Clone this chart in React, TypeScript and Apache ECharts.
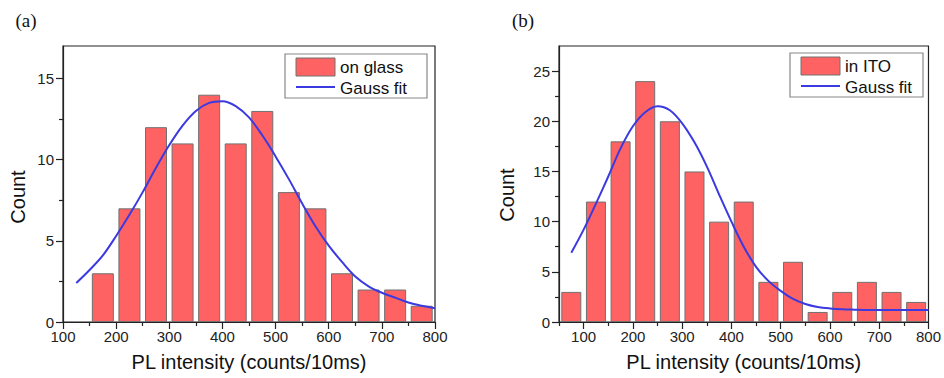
import React, { useEffect, useRef } from 'react';
import * as echarts from 'echarts';

// ---- Panel (a): on glass ----
const binsA = [175, 225, 275, 325, 375, 425, 475, 525, 575, 625, 675, 725, 775];
const countsA = [3, 7, 12, 11, 14, 11, 13, 8, 7, 3, 2, 2, 1];
const fitAx = [125, 150, 175, 200, 225, 250, 275, 300, 325, 350, 375, 400, 425, 450, 475, 500, 525, 550, 575, 600, 625, 650, 675, 700, 725, 750, 775, 800];
const fitAy = [2.4, 3.2, 4.1, 5.3, 6.6, 8.0, 9.5, 10.9, 12.1, 13.0, 13.5, 13.6, 13.3, 12.6, 11.5, 10.2, 8.8, 7.3, 5.9, 4.7, 3.7, 2.8, 2.2, 1.8, 1.5, 1.2, 1.0, 0.85];
const xTicksA = [100, 200, 300, 400, 500, 600, 700, 800];
const xMinorA = [150, 250, 350, 450, 550, 650, 750];
const yTicksA = [0, 5, 10, 15];
const yMinorA = [2.5, 7.5, 12.5];

// ---- Panel (b): in ITO ----
const binsB = [75, 125, 175, 225, 275, 325, 375, 425, 475, 525, 575, 625, 675, 725, 775];
const countsB = [3, 12, 18, 24, 20, 15, 10, 12, 4, 6, 1, 3, 4, 3, 2];
const fitBx = [75, 100, 125, 150, 175, 200, 225, 250, 275, 300, 325, 350, 375, 400, 425, 450, 475, 500, 525, 550, 575, 600, 625, 650, 675, 700, 725, 750, 775, 800];
const fitBy = [6.9, 9.2, 11.8, 14.5, 17.3, 19.5, 20.9, 21.5, 21.1, 19.8, 17.9, 15.5, 12.7, 10.0, 7.5, 5.5, 4.1, 3.1, 2.3, 1.8, 1.5, 1.35, 1.27, 1.23, 1.2, 1.2, 1.2, 1.2, 1.2, 1.2];
const xTicksB = [100, 200, 300, 400, 500, 600, 700, 800];
const xMinorB = [50, 150, 250, 350, 450, 550, 650, 750];
const yTicksB = [0, 5, 10, 15, 20, 25];
const yMinorB = [2.5, 7.5, 12.5, 17.5, 22.5];

const SANS = '"Liberation Sans", Arial, sans-serif';
const SERIF = '"Liberation Serif", "Times New Roman", serif';
const AXIS = '#222';
const BAR = '#ff6262';
const BAR_BORDER = '#707070';
const FIT = '#3a3ae0';

function mainX(gridIndex: number, min: number, max: number, ticks: number[]) {
  return {
    type: 'value', gridIndex, min, max, position: 'bottom',
    axisLine: { show: true, onZero: false, lineStyle: { color: AXIS, width: 1.2 } },
    axisTick: { show: true, customValues: ticks, length: 7, lineStyle: { color: AXIS, width: 1.2 } },
    axisLabel: { customValues: ticks, fontSize: 15, color: AXIS, fontFamily: SANS, margin: 7 },
    splitLine: { show: false },
  };
}
function minorX(gridIndex: number, min: number, max: number, ticks: number[]) {
  return {
    type: 'value', gridIndex, min, max, position: 'bottom',
    axisLine: { show: false, onZero: false },
    axisTick: { show: true, customValues: ticks, length: 4, lineStyle: { color: AXIS, width: 1.2 } },
    axisLabel: { show: false },
    splitLine: { show: false },
  };
}
function mainY(gridIndex: number, min: number, max: number, ticks: number[]) {
  return {
    type: 'value', gridIndex, min, max, position: 'left',
    axisLine: { show: true, onZero: false, lineStyle: { color: AXIS, width: 1.2 } },
    axisTick: { show: true, customValues: ticks, length: 7, lineStyle: { color: AXIS, width: 1.2 } },
    axisLabel: { customValues: ticks, fontSize: 15, color: AXIS, fontFamily: SANS, margin: 9 },
    splitLine: { show: false },
  };
}
function minorY(gridIndex: number, min: number, max: number, ticks: number[]) {
  return {
    type: 'value', gridIndex, min, max, position: 'left',
    axisLine: { show: false, onZero: false },
    axisTick: { show: true, customValues: ticks, length: 4, lineStyle: { color: AXIS, width: 1.2 } },
    axisLabel: { show: false },
    splitLine: { show: false },
  };
}

function legendBox(x: number, y: number, w: number, h: number, label: string) {
  return {
    type: 'group',
    children: [
      { type: 'rect', shape: { x, y, width: w, height: h }, style: { fill: '#fff', stroke: '#888', lineWidth: 1.2 } },
      { type: 'rect', shape: { x: x + 11, y: y + 4, width: 39, height: 18 }, style: { fill: BAR, stroke: BAR_BORDER, lineWidth: 1 } },
      { type: 'text', x: x + 55, y: y + 13, style: { text: label, fill: '#111', font: `17px ${SANS}`, verticalAlign: 'middle', align: 'left' } },
      { type: 'line', shape: { x1: x + 11, y1: y + 33, x2: x + 50, y2: y + 33 }, style: { stroke: FIT, lineWidth: 2 } },
      { type: 'text', x: x + 55, y: y + 34, style: { text: 'Gauss fit', fill: '#111', font: `17px ${SANS}`, verticalAlign: 'middle', align: 'left' } },
    ],
  };
}

export default function App() {
  const ref = useRef<HTMLDivElement>(null);
  useEffect(() => {
    document.body.style.margin = '0';
    if (!ref.current) return;
    const chart = echarts.init(ref.current, undefined, { renderer: 'svg' });
    chart.setOption({
      animation: false,
      backgroundColor: '#fff',
      grid: [
        { left: 63, top: 46, width: 372, height: 276, show: true, borderColor: AXIS, borderWidth: 1.2, containLabel: false },
        { left: 559, top: 46, width: 373, height: 276, show: true, borderColor: AXIS, borderWidth: 1.2, containLabel: false },
      ],
      xAxis: [
        { ...mainX(0, 100, 800, xTicksA), name: 'PL intensity (counts/10ms)', nameLocation: 'middle', nameGap: 30, nameTextStyle: { fontSize: 20, color: '#111', fontFamily: SANS } },
        minorX(0, 100, 800, xMinorA),
        { ...mainX(1, 50, 800, xTicksB), name: 'PL intensity (counts/10ms)', nameLocation: 'middle', nameGap: 30, nameTextStyle: { fontSize: 20, color: '#111', fontFamily: SANS } },
        minorX(1, 50, 800, xMinorB),
      ],
      yAxis: [
        mainY(0, 0, 17, yTicksA),
        minorY(0, 0, 17, yMinorA),
        mainY(1, 0, 27.5, yTicksB),
        minorY(1, 0, 27.5, yMinorB),
      ],
      series: [
        {
          type: 'bar', xAxisIndex: 0, yAxisIndex: 0, barWidth: 22,
          data: binsA.map((x, i) => [x, countsA[i]]),
          itemStyle: { color: BAR, borderColor: BAR_BORDER, borderWidth: 1 },
        },
        {
          type: 'line', xAxisIndex: 0, yAxisIndex: 0, smooth: 0.35, symbol: 'none',
          data: fitAx.map((x, i) => [x, fitAy[i]]),
          lineStyle: { color: FIT, width: 2 },
        },
        {
          type: 'bar', xAxisIndex: 2, yAxisIndex: 2, barWidth: 20,
          data: binsB.map((x, i) => [x, countsB[i]]),
          itemStyle: { color: BAR, borderColor: BAR_BORDER, borderWidth: 1 },
        },
        {
          type: 'line', xAxisIndex: 2, yAxisIndex: 2, smooth: 0.35, symbol: 'none',
          data: fitBx.map((x, i) => [x, fitBy[i]]),
          lineStyle: { color: FIT, width: 2 },
        },
      ],
      graphic: [
        { type: 'text', x: 26, y: 20, style: { text: '(a)', font: `19px ${SERIF}`, fill: '#111', align: 'center', verticalAlign: 'middle' } },
        { type: 'text', x: 523, y: 20, style: { text: '(b)', font: `19px ${SERIF}`, fill: '#111', align: 'center', verticalAlign: 'middle' } },
        { type: 'text', x: 18, y: 197, rotation: Math.PI / 2, style: { text: 'Count', font: `20px ${SANS}`, fill: '#111', align: 'center', verticalAlign: 'middle' } },
        { type: 'text', x: 507, y: 195, rotation: Math.PI / 2, style: { text: 'Count', font: `20px ${SANS}`, fill: '#111', align: 'center', verticalAlign: 'middle' } },
        legendBox(285, 54, 142, 44, 'on glass'),
        legendBox(790, 53, 133, 44, 'in ITO'),
      ],
    });
    return () => chart.dispose();
  }, []);
  return <div ref={ref} style={{ width: 944, height: 378 }} />;
}
